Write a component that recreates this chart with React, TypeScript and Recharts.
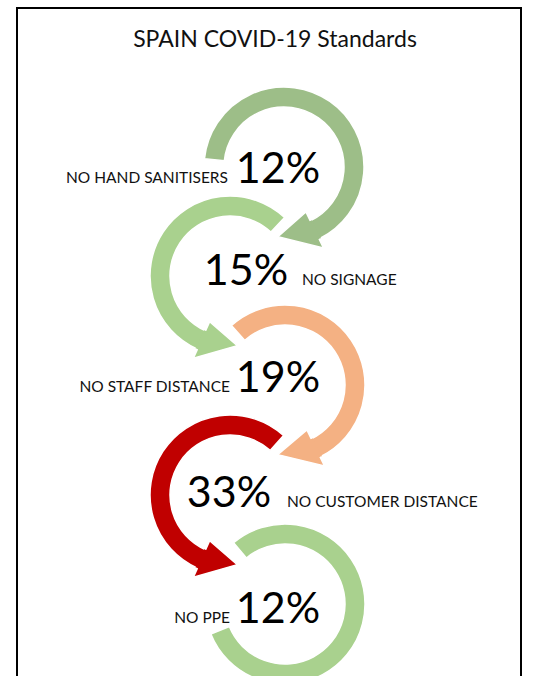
import { PieChart, Pie } from "recharts";

const TITLE = "SPAIN COVID-19 Standards";

const categories = [
  "NO HAND SANITISERS",
  "NO SIGNAGE",
  "NO STAFF DISTANCE",
  "NO CUSTOMER DISTANCE",
  "NO PPE",
];
const shares = [12, 15, 19, 33, 12];
const ringColors = ["#9dbe88", "#a9d18e", "#f4b183", "#c00000", "#a9d18e"];

// ring layout: centre, where the arc starts, where the arrow head begins, head length (deg)
const ringCx = [284, 230, 285, 230, 285];
const ringCy = [167, 276, 385, 495, 604];
const arcStart = [174, 47, 132, 48, 130];
const arcEnd = [-64, 246, -64, 246, -158];
const headSpan = [31, 30, 32, 30, 0];

// text placement relative to each ring centre
const pctDx = [-6, 16, -7, -1, -7];
const textDy = [16, 9, 7, 12, 19];
const labelDx = [-56, 72, -55, 57, -55];

const FONT = "Lato, 'Open Sans', sans-serif";
const RAD = Math.PI / 180;
const pt = (cx: number, cy: number, r: number, a: number) =>
  `${cx + r * Math.cos(a * RAD)},${cy - r * Math.sin(a * RAD)}`;

const ringText = (props: any) => {
  const { cx, cy, innerRadius, outerRadius, startAngle, endAngle } = props;
  const slot = props.slot ?? props.payload?.slot ?? 0;
  const pct = props.pct ?? props.payload?.pct;
  const head = headSpan[slot];
  const s = Math.sign(endAngle - startAngle);
  const mid = (innerRadius + outerRadius) / 2;
  const ext = 10;
  const tip = endAngle + s * head;
  const back = endAngle - s * 1.5;

  const fillPath =
    `M${pt(cx, cy, outerRadius, back)} L${pt(cx, cy, outerRadius, endAngle)} ` +
    `L${pt(cx, cy, outerRadius + ext, endAngle)} L${pt(cx, cy, mid, tip)} ` +
    `L${pt(cx, cy, innerRadius - ext, endAngle)} L${pt(cx, cy, innerRadius, endAngle)} ` +
    `L${pt(cx, cy, innerRadius, back)} Z`;
  const edgePath =
    `M${pt(cx, cy, outerRadius, endAngle)} L${pt(cx, cy, outerRadius + ext, endAngle)} ` +
    `L${pt(cx, cy, mid, tip)} L${pt(cx, cy, innerRadius - ext, endAngle)} ` +
    `L${pt(cx, cy, innerRadius, endAngle)}`;

  const lx = cx + labelDx[slot];
  const y = cy + textDy[slot];

  return (
    <g key={`ring-${slot}`}>
      {head > 0 && (
        <>
          <path d={fillPath} fill={ringColors[slot]} stroke="none" />
          <path d={edgePath} fill="none" stroke="#fff" strokeWidth={1.5} />
        </>
      )}
      <text x={cx + pctDx[slot]} y={y} textAnchor="middle" fontSize={43} fill="#000" fontFamily={FONT}>
        {pct}%
      </text>
      <text
        x={lx}
        y={y}
        textAnchor={labelDx[slot] < 0 ? "end" : "start"}
        fontSize={15.5}
        fill="#111"
        fontFamily={FONT}
      >
        {categories[slot]}
      </text>
    </g>
  );
};

export default function App() {
  return (
    <div
      style={{
        position: "absolute",
        left: 0,
        top: 0,
        width: 542,
        height: 676,
        background: "#fff",
        overflow: "hidden",
      }}
    >
      <svg width={542} height={676} style={{ position: "absolute", left: 0, top: 0 }}>
        <rect x={17} y={8} width={504} height={700} fill="#fff" stroke="#000" strokeWidth={2} />
        <text x={275} y={47} textAnchor="middle" fontSize={23} fill="#111" fontFamily={FONT}>
          {TITLE}
        </text>
      </svg>
      <div style={{ position: "absolute", left: 0, top: 0 }}>
        <PieChart width={542} height={676} margin={{ top: 0, right: 0, bottom: 0, left: 0 }}>
          {categories.map((c, i) => (
            <Pie
              key={c}
              data={[{ name: c, pct: shares[i], slot: i }]}
              dataKey="pct"
              nameKey="name"
              cx={ringCx[i]}
              cy={ringCy[i]}
              innerRadius={60}
              outerRadius={80}
              startAngle={arcStart[i]}
              endAngle={arcEnd[i]}
              fill={ringColors[i]}
              stroke="#fff"
              strokeWidth={1.5}
              label={ringText}
              labelLine={false}
              isAnimationActive={false}
            />
          ))}
        </PieChart>
      </div>
    </div>
  );
}
